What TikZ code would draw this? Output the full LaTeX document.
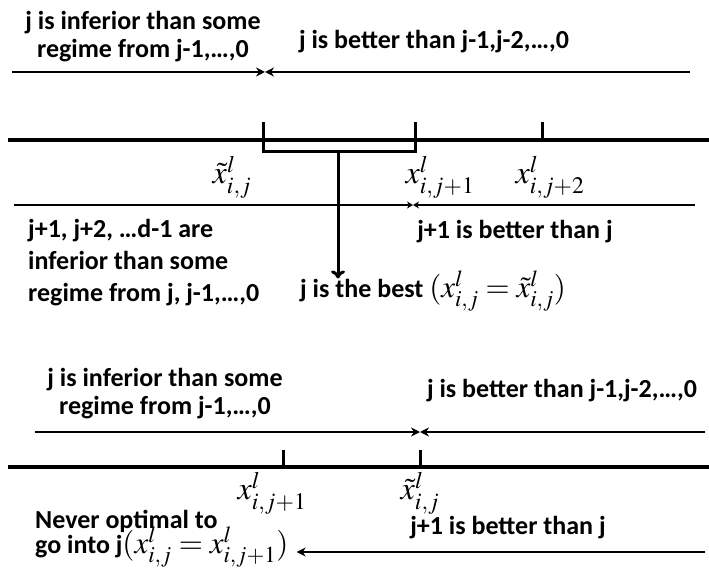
\documentclass[tikz,border=0pt]{standalone}
\usepackage{mathptmx}
\usepackage{fontspec}
\setmainfont{Carlito}
\usetikzlibrary{arrows.meta}

\begin{document}
\begin{tikzpicture}[x=1pt,y=-1pt,
  txt/.style={font=\bfseries\fontsize{26}{28}\selectfont, inner sep=0pt},
  sym/.style={font=\fontsize{32}{32}\selectfont, inner sep=0pt},
  axis/.style={line width=4pt},
  tick/.style={line width=3pt},
  guide/.style={line width=2.2pt, -{Stealth[length=9pt,width=9pt]}},
  thinguide/.style={line width=1.6pt, -{Stealth[length=6pt,width=7pt]}}]
\useasboundingbox (0,0) rectangle (709,569);

% upper picture
\node[txt, align=center] (infA) at (143,37) {j is inferior than some\\regime from j-1,…,0};
\node[txt] (betA) at (434,42) {j is better than j-1,j-2,…,0};
\coordinate (lA) at (12,72);
\coordinate (mA) at (265,72);
\coordinate (rA) at (690,72);
\draw[guide] (lA) -- (mA);
\draw[guide] (rA) -- (mA);

\coordinate (a0) at (8,140);
\coordinate (a1) at (709,140);
\draw[axis] (a0) -- (a1);
\foreach \t/\x in {tj/263, tja/415, tjb/542}
  \coordinate (\t) at (\x,140);
\foreach \t in {tj, tja, tjb}
  \draw[tick] (\t) -- ++(0,-18);

% bracket and the arrow down
\coordinate (bl) at (263,142);
\coordinate (br) at (415,142);
\coordinate (bm) at (338,152);
\draw[tick] (bl) |- (bm) -| (br);
\node[sym] (xtj) at (232,177) {$\tilde{x}^l_{i,j}$};
\node[sym] (xja) at (440,177) {$x^l_{i,j+1}$};
\node[sym] (xjb) at (550,177) {$x^l_{i,j+2}$};

\coordinate (lB) at (14,205);
\coordinate (mB) at (413,205);
\coordinate (rB) at (695,205);
\draw[thinguide] (lB) -- (mB);
\draw[thinguide] (rB) -- (mB);

\node[txt, align=left, anchor=north west, font=\bfseries\fontsize{26}{32}\selectfont] (infB) at (28,219)
  {j+1, j+2, …d-1 are\\inferior than some\\regime from j, j-1,…,0};
\node[txt] (betB) at (515,232) {j+1 is better than j};
\node[txt, anchor=west] (best) at (300,291) {j is the best {\fontsize{31}{31}\selectfont$(x^l_{i,j}=\tilde{x}^l_{i,j})$}};
\draw[tick, -{To[length=8pt,width=14pt]}] (bm) -- ([yshift=-8pt]best.north -| bm);

% lower picture
\node[txt, align=center] (infC) at (165,394) {j is inferior than some\\regime from j-1,…,0};
\node[txt] (betC) at (562,391) {j is better than j-1,j-2,…,0};
\coordinate (lC) at (35,432);
\coordinate (mC) at (420,432);
\coordinate (rC) at (705,432);
\draw[guide] (lC) -- (mC);
\draw[guide] (rC) -- (mC);

\coordinate (c0) at (8,467);
\coordinate (c1) at (709,467);
\draw[axis] (c0) -- (c1);
\foreach \t/\x in {sja/283, sj/420}
  \coordinate (\t) at (\x,467);
\foreach \t in {sja, sj}
  \draw[tick] (\t) -- ++(0,-17);
\node[sym] (yja) at (272,493) {$x^l_{i,j+1}$};
\node[sym] (ytj) at (420,493) {$\tilde{x}^l_{i,j}$};

\node[txt, anchor=west] (never) at (35,521) {Never optimal to};
\node[txt, anchor=west] (gointo) at (35,547) {go into j{\fontsize{31}{31}\selectfont$(x^l_{i,j}=x^l_{i,j+1})$}};
\node[txt] (betD) at (508,528) {j+1 is better than j};
\coordinate (rD) at (705,552);
\draw[guide] (rD) -- ([xshift=8pt]gointo.east |- rD);
\end{tikzpicture}
\end{document}
